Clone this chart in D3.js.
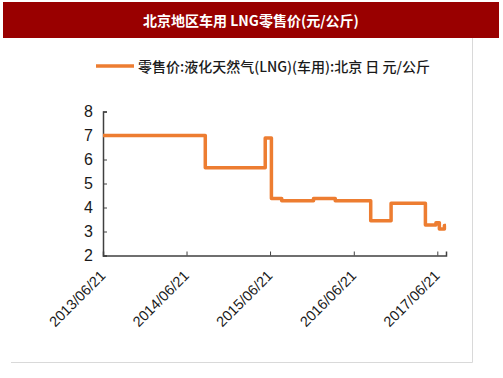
<!DOCTYPE html>
<html>
<head>
<meta charset="utf-8">
<script src="https://cdn.jsdelivr.net/npm/d3@7"></script>
<style>
  body { margin: 0; background: #fff; }
  svg { display: block; }
</style>
</head>
<body>
<div id="chart"></div>
<script>
// step dates and price (yuan/kg)
const dates = ["2013-06-21", "2014-09-11", "2015-05-31", "2015-06-27", "2015-08-11",
               "2015-12-28", "2016-04-01", "2016-09-03", "2016-12-01", "2017-04-30",
               "2017-06-15", "2017-06-30", "2017-07-22", "2017-07-29"];
const prices = [7.0, 5.66, 6.9, 4.38, 4.28, 4.38, 4.28, 3.45, 4.18, 3.27, 3.36, 3.1, 3.25, 3.25];
const xTicks = ["2013/06/21", "2014/06/21", "2015/06/21", "2016/06/21", "2017/06/21"];
const yTicks = [2, 3, 4, 5, 6, 7, 8];
const titleText = "北京地区车用 LNG零售价(元/公斤)";
const legendText = "零售价:液化天然气(LNG)(车用):北京 日 元/公斤";

const width = 503, height = 378;
const parse = d3.timeParse("%Y-%m-%d");
const parseTick = d3.timeParse("%Y/%m/%d");
const data = dates.map((d, i) => ({ date: parse(d), value: prices[i] }));

const svg = d3.select("#chart").append("svg")
    .attr("width", width)
    .attr("height", height);

// title band
svg.append("rect")
    .attr("x", 3).attr("y", 2)
    .attr("width", 496).attr("height", 36)
    .attr("fill", "#990000");
svg.append("text")
    .attr("x", 251).attr("y", 20)
    .attr("text-anchor", "middle")
    .attr("dominant-baseline", "central")
    .attr("fill", "#fff")
    .attr("font-family", "'Noto Sans CJK SC', sans-serif")
    .attr("font-weight", "bold")
    .attr("font-size", 14)
    .text(titleText);

// light frame (right and bottom)
svg.append("path")
    .attr("d", "M472.5,38V362.5H11")
    .attr("fill", "none")
    .attr("stroke", "#d9d9d9")
    .attr("stroke-width", 1);

// legend
svg.append("line")
    .attr("x1", 96).attr("x2", 134)
    .attr("y1", 66).attr("y2", 66)
    .attr("stroke", "#ED7D31")
    .attr("stroke-width", 3.5);
svg.append("text")
    .attr("x", 138).attr("y", 66)
    .attr("dominant-baseline", "central")
    .attr("fill", "#1a1a1a")
    .attr("font-family", "'Noto Sans CJK SC', 'Liberation Sans', sans-serif")
    .attr("font-weight", 500)
    .attr("font-size", 14)
    .text(legendText);

// scales
let x = d3.scaleTime()
    .domain([parse("2013-06-21"), parse("2017-07-29")])
    .range([103, 446]);
let y = d3.scaleLinear()
    .domain([2, 8])
    .range([255.5, 111.5]);

// axes
const axisColor = "#404040";
let xAxis = svg.append("g")
    .attr("transform", "translate(0,255.5)")
    .call(d3.axisBottom(x)
        .tickValues(xTicks.map(parseTick))
        .tickSize(-4)
        .tickFormat(d3.timeFormat("%Y/%m/%d")));
xAxis.select(".domain").attr("stroke", axisColor).attr("stroke-width", 1.5);
xAxis.selectAll(".tick line").attr("stroke", axisColor);
xAxis.selectAll(".tick text")
    .attr("font-family", "'Liberation Sans', Arial, sans-serif")
    .attr("font-size", 14.5)
    .attr("fill", "#1a1a1a")
    .attr("text-anchor", "end")
    .attr("dy", null)
    .attr("y", 0)
    .attr("transform", "translate(3,21) rotate(-45)");

let yAxis = svg.append("g")
    .attr("transform", "translate(103,0)")
    .call(d3.axisLeft(y)
        .tickValues(yTicks)
        .tickSize(-4)
        .tickFormat(d3.format("d")));
yAxis.select(".domain").attr("stroke", axisColor).attr("stroke-width", 1.5);
yAxis.selectAll(".tick line").attr("stroke", axisColor);
yAxis.selectAll(".tick text")
    .attr("x", -10)
    .attr("font-family", "'Liberation Sans', Arial, sans-serif")
    .attr("font-size", 16)
    .attr("fill", "#1a1a1a");

// price line
let line = d3.line()
    .x(d => x(d.date))
    .y(d => y(d.value))
    .curve(d3.curveStepAfter);
svg.append("path")
    .datum(data)
    .attr("d", line)
    .attr("fill", "none")
    .attr("stroke", "#ED7D31")
    .attr("stroke-width", 3.5)
    .attr("stroke-linejoin", "round");
</script>
</body>
</html>
